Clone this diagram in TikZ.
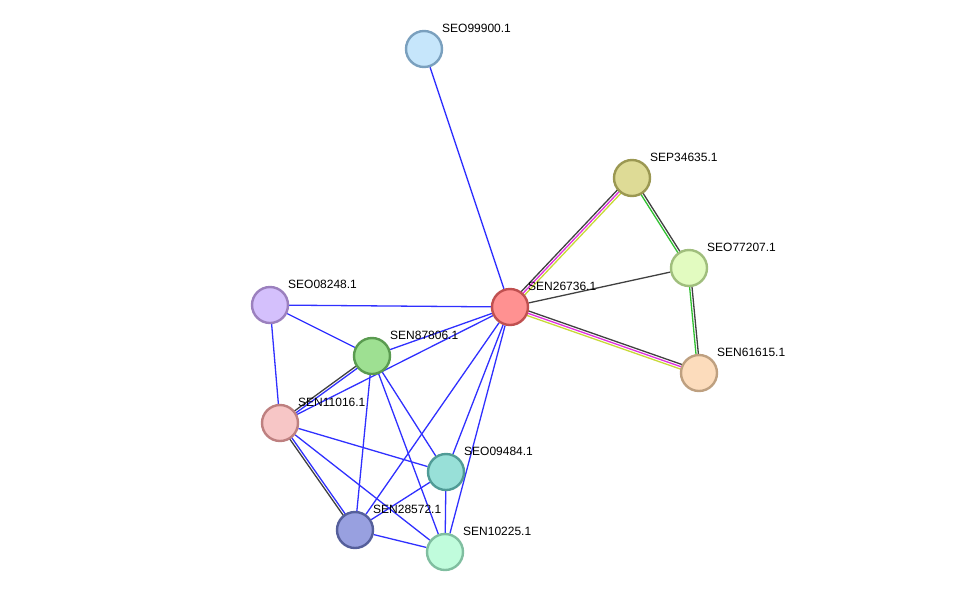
\documentclass[tikz,border=0pt]{standalone}
\usepackage{fontspec}
\setmainfont{Liberation Sans}
\usetikzlibrary{calc,backgrounds}

\definecolor{linkblue}{HTML}{3030FF}
\definecolor{linkgray}{HTML}{404040}
\definecolor{linkpink}{HTML}{E030E0}
\definecolor{linkyellow}{HTML}{C8D838}
\definecolor{linkgreen}{HTML}{30C030}

% one strand of a multi-line link, offset sideways by #4
\newcommand{\strand}[4]{\draw[link, #3] ($(#1)!#4!90:(#2)$) -- ($(#2)!#4!-90:(#1)$);}

\tikzset{
  prot/.style={circle, minimum size=36pt, inner sep=0pt, line width=2.4pt},
  tag/.style={anchor=west, font=\fontsize{12}{14}\selectfont, xshift=18pt, yshift=21pt, inner sep=0pt},
  link/.style={line width=1.3pt}
}

\begin{document}
\begin{tikzpicture}[x=1pt, y=-1pt]
    \useasboundingbox (0,0) rectangle (975,598);

    % proteins
    \node[prot, fill={rgb,255:red,198;green,230;blue,251}, draw={rgb,255:red,122;green,160;blue,190}] (seo99900) at (424,49) {};
    \node[prot, fill={rgb,255:red,222;green,219;blue,150}, draw={rgb,255:red,155;green,152;blue,82}] (sep34635) at (632,178) {};
    \node[prot, fill={rgb,255:red,226;green,251;blue,192}, draw={rgb,255:red,160;green,190;blue,125}] (seo77207) at (689,268) {};
    \node[prot, fill={rgb,255:red,255;green,145;blue,145}, draw={rgb,255:red,192;green,80;blue,80}] (sen26736) at (510,307) {};
    \node[prot, fill={rgb,255:red,252;green,220;blue,188}, draw={rgb,255:red,190;green,160;blue,128}] (sen61615) at (699,373) {};
    \node[prot, fill={rgb,255:red,212;green,192;blue,252}, draw={rgb,255:red,155;green,128;blue,190}] (seo08248) at (270,305) {};
    \node[prot, fill={rgb,255:red,158;green,224;blue,146}, draw={rgb,255:red,90;green,155;blue,80}] (sen87806) at (372,356) {};
    \node[prot, fill={rgb,255:red,247;green,198;blue,198}, draw={rgb,255:red,190;green,128;blue,128}] (sen11016) at (280,423) {};
    \node[prot, fill={rgb,255:red,152;green,224;blue,216}, draw={rgb,255:red,80;green,155;blue,150}] (seo09484) at (446,472) {};
    \node[prot, fill={rgb,255:red,152;green,160;blue,224}, draw={rgb,255:red,85;green,95;blue,155}] (sen28572) at (355,530) {};
    \node[prot, fill={rgb,255:red,192;green,252;blue,220}, draw={rgb,255:red,128;green,190;blue,160}] (sen10225) at (445,552) {};

    % names
    \node[tag] (seo99900-t) at (seo99900) {SEO99900.1};
    \node[tag] (sep34635-t) at (sep34635) {SEP34635.1};
    \node[tag] (seo77207-t) at (seo77207) {SEO77207.1};
    \node[tag] (sen26736-t) at (sen26736) {SEN26736.1};
    \node[tag] (sen61615-t) at (sen61615) {SEN61615.1};
    \node[tag] (seo08248-t) at (seo08248) {SEO08248.1};
    \node[tag] (sen87806-t) at (sen87806) {SEN87806.1};
    \node[tag] (sen11016-t) at (sen11016) {SEN11016.1};
    \node[tag] (seo09484-t) at (seo09484) {SEO09484.1};
    \node[tag] (sen28572-t) at (sen28572) {SEN28572.1};
    \node[tag] (sen10225-t) at (sen10225) {SEN10225.1};

    \begin{scope}[on background layer]
    % single blue links
    \foreach \a/\b in {seo99900/sen26736, seo08248/sen26736, seo08248/sen87806,
                       seo08248/sen11016, sen87806/sen26736, sen11016/sen26736,
                       sen87806/seo09484, sen87806/sen10225, sen87806/sen28572,
                       sen11016/seo09484, sen11016/sen10225, sen26736/sen28572,
                       sen26736/seo09484, sen26736/sen10225, seo09484/sen28572,
                       seo09484/sen10225, sen28572/sen10225}
        \draw[link, linkblue] (\a) -- (\b);
    \draw[link, linkgray] (sen26736) -- (seo77207);

    % multi-line links
    \strand{sen26736}{sep34635}{linkgray}{2.4pt}
    \strand{sen26736}{sep34635}{linkpink}{0pt}
    \strand{sen26736}{sep34635}{linkyellow}{-2.4pt}
    \strand{sen26736}{sen61615}{linkgray}{2.4pt}
    \strand{sen26736}{sen61615}{linkpink}{0pt}
    \strand{sen26736}{sen61615}{linkyellow}{-2.4pt}
    \strand{sep34635}{seo77207}{linkgray}{1.2pt}
    \strand{sep34635}{seo77207}{linkgreen}{-1.2pt}
    \strand{seo77207}{sen61615}{linkgray}{1.2pt}
    \strand{seo77207}{sen61615}{linkgreen}{-1.2pt}
    \strand{sen11016}{sen87806}{linkgray}{1.2pt}
    \strand{sen11016}{sen87806}{linkblue}{-1.2pt}
    \strand{sen11016}{sen28572}{linkgray}{-1.2pt}
    \strand{sen11016}{sen28572}{linkblue}{1.2pt}
    \end{scope}
\end{tikzpicture}
\end{document}
